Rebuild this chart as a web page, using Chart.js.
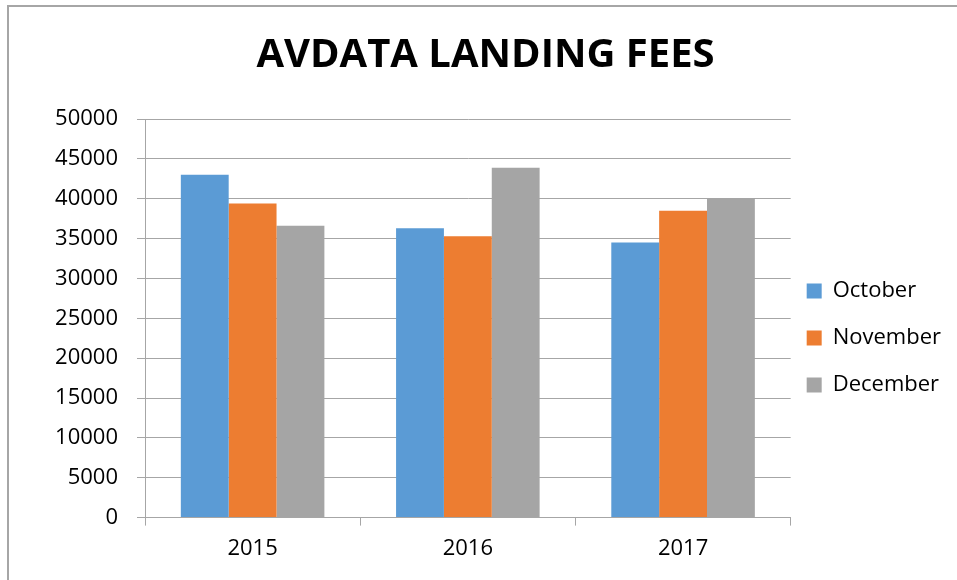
<!DOCTYPE html>
<html>
<head>
<meta charset="utf-8">
<script src="https://cdn.jsdelivr.net/npm/chart.js@4.4.0/dist/chart.umd.min.js"></script>
<style>
  html, body { margin: 0; padding: 0; background: #fff; overflow: hidden; }
  #frame { position: absolute; left: 7px; top: 5px; width: 1000px; height: 1000px;
           border-left: 2px solid #a6a6a6; border-top: 2px solid #a6a6a6; }
  #wrap { position: absolute; left: 0; top: 0; width: 957px; height: 580px; }
</style>
</head>
<body>
<div id="frame"></div>
<div id="wrap"><canvas id="grafik" width="957" height="580"></canvas></div>
<script>
// data
const years = ['2015', '2016', '2017'];
const october = [43000, 36300, 34500];
const november = [39400, 35300, 38500];
const december = [36600, 43900, 40100];
const yTicks = [0, 5000, 10000, 15000, 20000, 25000, 30000, 35000, 40000, 45000, 50000];

const fontName = '"Open Sans", "Liberation Sans", sans-serif';
const gridColor = '#a6a6a6';

// legend sits a bit closer to the plot than chart.js puts it
const legendNudge = {
  id: 'legendNudge',
  afterLayout(chart) {
    chart.legend.left -= 9;
    chart.legend.right -= 9;
  }
};

const ctx = document.getElementById('grafik').getContext('2d');

new Chart(ctx, {
  type: 'bar',
  data: {
    labels: years,
    datasets: [
      { label: 'October', data: october, backgroundColor: '#5b9bd5' },
      { label: 'November', data: november, backgroundColor: '#ed7d31' },
      { label: 'December', data: december, backgroundColor: '#a5a5a5' }
    ]
  },
  options: {
    responsive: false,
    animation: false,
    datasets: {
      bar: { categoryPercentage: 0.667, barPercentage: 1.0 }
    },
    layout: { padding: { left: 11, right: -3, top: 26, bottom: 8 } },
    plugins: {
      title: {
        display: true,
        text: 'AVDATA LANDING FEES',
        color: '#000',
        font: { family: fontName, size: 40, weight: 'bold' },
        padding: { top: 6, bottom: 39 }
      },
      legend: {
        position: 'right',
        title: { display: true, text: ' ', font: { size: 10 }, padding: { top: 66, bottom: 0 } },
        labels: {
          color: '#000',
          font: { family: fontName, size: 22 },
          boxWidth: 15,
          boxHeight: 15,
          padding: 25
        }
      },
      tooltip: { enabled: false }
    },
    scales: {
      x: {
        grid: { drawOnChartArea: false, drawTicks: true, tickLength: 8, offset: true, color: gridColor },
        border: { color: gridColor, width: 1 },
        ticks: { color: '#000', font: { family: fontName, size: 22 }, padding: 10 }
      },
      y: {
        min: 0,
        max: 50000,
        afterBuildTicks: (axis) => { axis.ticks = yTicks.map(v => ({ value: v })); },
        afterFit: (axis) => { axis.width = 134; },
        grid: { color: gridColor, tickLength: 8 },
        border: { color: gridColor, width: 1 },
        ticks: {
          color: '#000',
          font: { family: fontName, size: 22 },
          padding: 19,
          callback: (v) => String(v)
        }
      }
    }
  },
  plugins: [legendNudge]
});
</script>
</body>
</html>
